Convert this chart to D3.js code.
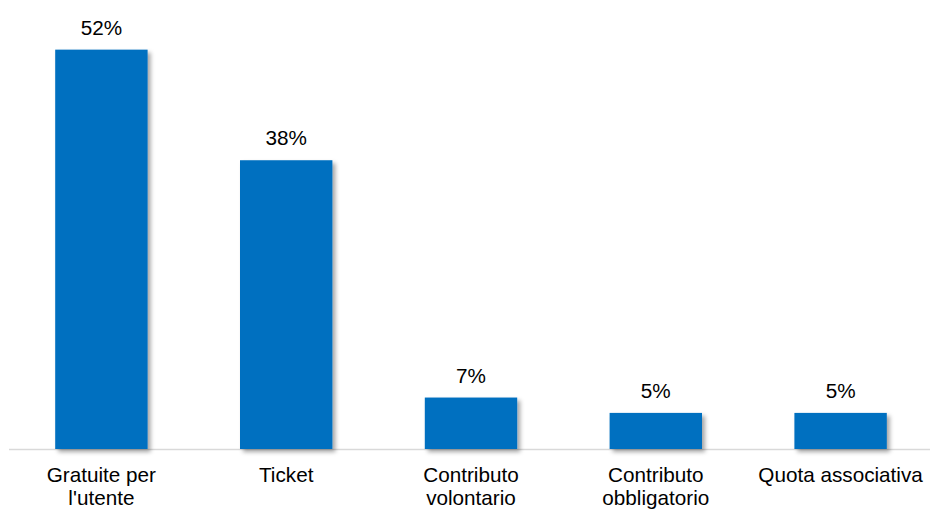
<!DOCTYPE html>
<html>
    <head>
        <meta charset="utf-8">
        <title>Bar chart</title>
        <script type="text/javascript" src="https://d3js.org/d3.v7.min.js"></script>
        <style>
            body { margin: 0; background: #fff; }
            text { font-family: "Liberation Sans", Arial, sans-serif; fill: #000; }
        </style>
    </head>
    <body>
        <script type="text/javascript">
            let categories = [
                ['Gratuite per', "l'utente"],
                ['Ticket'],
                ['Contributo', 'volontario'],
                ['Contributo', 'obbligatorio'],
                ['Quota associativa']
            ];
            let values = [0.52, 0.376, 0.067, 0.047, 0.047];

            let width = 930;
            let height = 510;
            let baseY = 449;

            let svg = d3.select('body')
                .append('svg')
                .attr('width', width)
                .attr('height', height);

            let filter = svg.append('defs')
                .append('filter')
                .attr('id', 'shadow')
                .attr('x', '-20%').attr('y', '-20%')
                .attr('width', '150%').attr('height', '150%');
            filter.append('feDropShadow')
                .attr('dx', 3)
                .attr('dy', 3)
                .attr('stdDeviation', 2)
                .attr('flood-color', '#000')
                .attr('flood-opacity', 0.35);

            let x = d3.scaleBand()
                .domain(d3.range(categories.length))
                .range([9, 933])
                .paddingInner(0.5)
                .paddingOuter(0.25);

            let y = d3.scaleLinear()
                .domain([0, 0.55])
                .range([baseY, baseY - 0.55 * 768]);

            svg.append('line')
                .attr('x1', 9)
                .attr('x2', 930)
                .attr('y1', baseY + 0.5)
                .attr('y2', baseY + 0.5)
                .attr('stroke', '#d9d9d9')
                .attr('stroke-width', 1.5);

            svg.selectAll('rect.bar')
                .data(values)
                .enter()
                .append('rect')
                    .attr('class', 'bar')
                    .attr('x', (d, i) => x(i))
                    .attr('y', d => y(d))
                    .attr('width', x.bandwidth())
                    .attr('height', d => baseY - y(d))
                    .attr('fill', '#0070C0')
                    .attr('filter', 'url(#shadow)');

            let fmt = d3.format('.0%');
            svg.selectAll('text.value')
                .data(values)
                .enter()
                .append('text')
                    .attr('class', 'value')
                    .attr('x', (d, i) => x(i) + x.bandwidth() / 2)
                    .attr('y', d => y(d) - 15)
                    .attr('text-anchor', 'middle')
                    .style('font-size', '20.7px')
                    .text(d => fmt(d));

            let labels = svg.selectAll('text.cat')
                .data(categories)
                .enter()
                .append('text')
                    .attr('class', 'cat')
                    .attr('x', (d, i) => x(i) + x.bandwidth() / 2)
                    .attr('y', baseY + 33)
                    .attr('text-anchor', 'middle')
                    .style('font-size', '20.7px');

            labels.selectAll('tspan')
                .data(d => d)
                .enter()
                .append('tspan')
                    .attr('x', function() { return d3.select(this.parentNode).attr('x'); })
                    .attr('dy', (d, i) => i === 0 ? 0 : 23)
                    .text(d => d);
        </script>
    </body>
</html>
